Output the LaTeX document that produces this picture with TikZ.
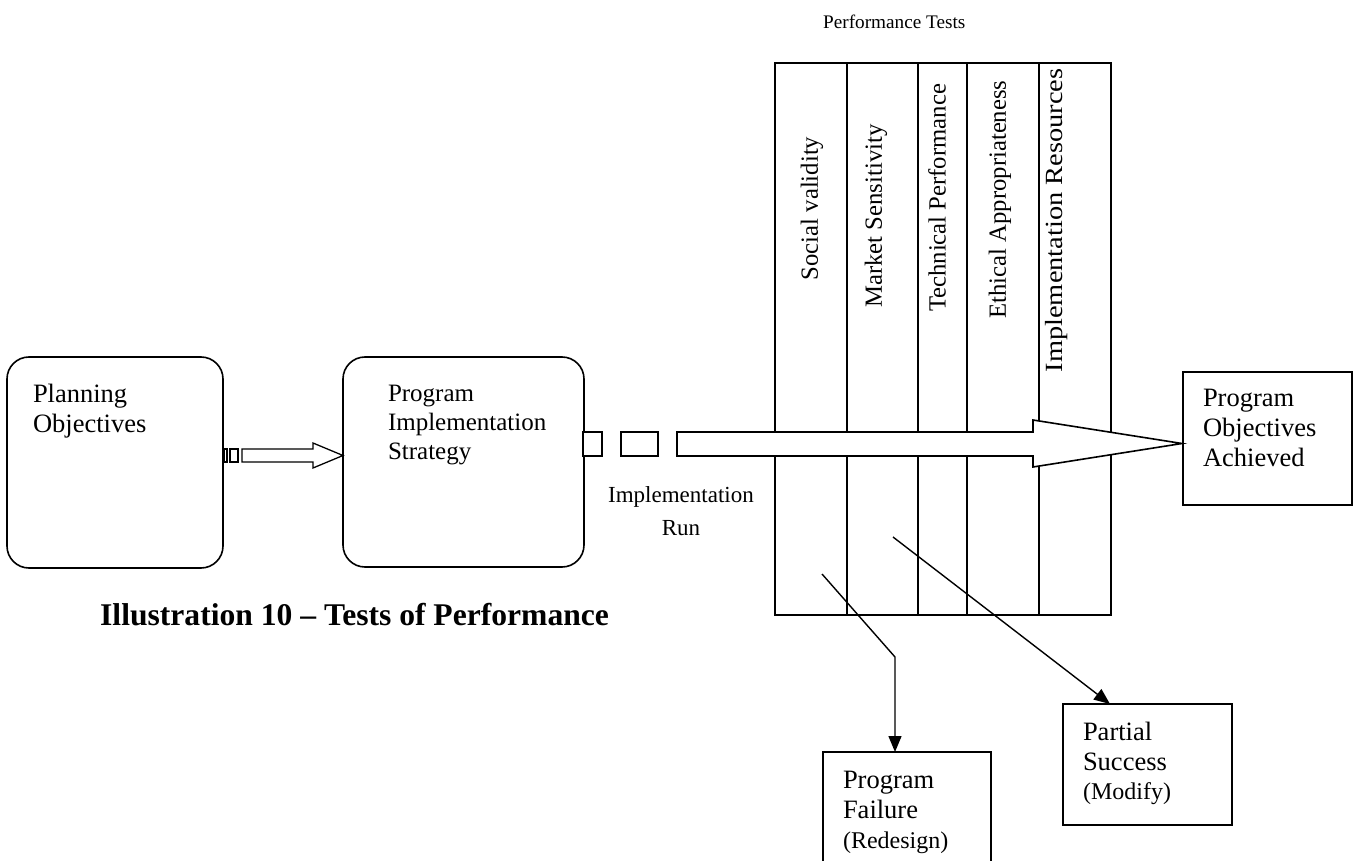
\documentclass[tikz,border=0pt]{standalone}
\usepackage{fontspec}
\setmainfont{Liberation Serif}
\usetikzlibrary{arrows.meta}
\newcommand\myfs[2]{\fontsize{#1}{#2}\selectfont}
\begin{document}
\begin{tikzpicture}[x=1pt,y=-1pt,
  box/.style={draw, line width=1.6pt, inner sep=0pt, outer sep=0pt, anchor=north west},
  rbox/.style={box, rounded corners=22pt},
  txt/.style={inner sep=0pt, outer sep=0pt, align=left, anchor=north west, font=\myfs{26.5}{30}},
  small/.style={inner sep=0pt, outer sep=0pt, anchor=base west, font=\myfs{24}{26}},
  collabel/.style={inner sep=0pt, outer sep=0pt, rotate=90, anchor=center, font=\myfs{24.7}{27}},
  conn/.style={line width=1.4pt, -{Triangle[length=16pt,width=13pt]}},
  fatarrow/.style={draw, fill=white, line width=1.6pt, line join=miter},
  divider/.style={line width=1.6pt}
]
\useasboundingbox (0,0) rectangle (1358,861);
\fill[white] (0,0) rectangle (1358,861);
\clip (0,0) rectangle (1358,861);

% boxes
\node[rbox, minimum width=216pt, minimum height=211pt] (plan) at (7,357) {};
\node[rbox, minimum width=241pt, minimum height=210pt] (strat) at (343,357) {};
\node[box, minimum width=169pt, minimum height=133pt] (achv) at (1183,372) {};
\node[box, minimum width=169pt, minimum height=121pt] (part) at (1063,704) {};
\node[box, minimum width=168pt, minimum height=140pt] (fail) at (823,752) {};

% test columns
\node[box, minimum width=336pt, minimum height=552pt] (cols) at (775,63) {};
\draw[divider] (847,63) -- (847,615);
\draw[divider] (918,63) -- (918,615);
\draw[divider] (967,63) -- (967,615);
\draw[divider] (1039,63) -- (1039,615);

\node[collabel] (c1) at (812,208.5) {Social validity};
\node[collabel] (c2) at (876,216) {Market Sensitivity};
\node[collabel] (c3) at (937,198) {Technical Performance};
\node[collabel] (c4) at (1000,199.5) {Ethical Appropriateness};
\node[collabel] (c5) at (1057,220.5) {\scalebox{1.15}[1]{Implementation Resources}};

\node[inner sep=0pt, anchor=base west, font=\myfs{19.2}{21}] (pt) at (823,29) {Performance Tests};

% small striped arrow plan -> strat
\draw[fatarrow, line width=1.3pt] (224,449) rectangle (227,462);
\draw[fatarrow, line width=1.3pt] (230,449) rectangle (238,462);
\draw[fatarrow, line width=1.3pt] (242,449) -- (313,449) -- (313,443) -- (343,455.5)
   -- (313,468) -- (313,462) -- (242,462) -- cycle;

% big striped arrow strat -> achv
\draw[fatarrow] (583,432) rectangle (602,456);
\draw[fatarrow] (621,432) rectangle (658,456);
\draw[fatarrow] (677,432) -- (1033,432) -- (1033,420) -- (1182,443.5)
   -- (1033,467) -- (1033,456) -- (677,456) -- cycle;

% texts in boxes
\node[txt] (plant) at (33,383.9) {Planning\\Objectives};
\node[txt, font=\myfs{25}{29}] (stratt) at (388,385.5) {Program\\Implementation\\Strategy};
\node[txt] (achvt) at (1203,389.5) {Program\\Objectives\\Achieved};
\node[txt] (partt) at (1083,722.5) {Partial\\Success};
\node[small] (partm) at (1083,799) {(Modify)};
\node[txt] (failt) at (843,771.5) {Program\\Failure};
\node[small] (failr) at (843,848) {(Redesign)};

\node[inner sep=0pt, align=center, anchor=north, font=\myfs{23}{33}] (run) at (681,486.3) {Implementation\\Run};

% outcome connectors
\coordinate (fs) at (822,574);
\coordinate (fc) at (895,657);
\draw[conn] (fs) -- (fc) -- (fc |- fail.north);
\coordinate (ps) at (893,537);
\coordinate (pe) at (1110,704);
\draw[conn] (ps) -- (pe);

% caption
\node[inner sep=0pt, anchor=base west, font=\bfseries\myfs{31.6}{34}] (cap) at (100,625) {Illustration 10 -- Tests of Performance};
\end{tikzpicture}
\end{document}
